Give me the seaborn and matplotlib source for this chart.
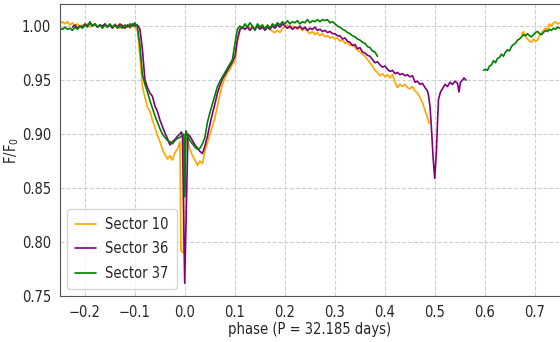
import numpy as np
import pandas as pd
import matplotlib
matplotlib.use("Agg")
import matplotlib.pyplot as plt
import seaborn as sns
from matplotlib.ticker import FormatStrFormatter

# (phase, F/F0)
s10_a = [
    (-0.250, 1.002), (-0.245, 1.004), (-0.240, 1.002), (-0.235, 1.004), (-0.230, 1.001),
    (-0.225, 1.003), (-0.220, 1.000), (-0.215, 1.002), (-0.210, 0.999), (-0.205, 1.001),
    (-0.200, 1.000), (-0.195, 1.002), (-0.190, 0.999), (-0.185, 1.001), (-0.180, 1.002),
    (-0.175, 0.999), (-0.170, 1.001), (-0.165, 0.999), (-0.160, 1.002), (-0.155, 1.000),
    (-0.150, 1.001), (-0.145, 0.999), (-0.140, 1.002), (-0.135, 1.000), (-0.130, 0.998),
    (-0.125, 1.001), (-0.120, 0.999), (-0.115, 1.001), (-0.110, 0.998), (-0.105, 1.000),
    (-0.100, 0.999), (-0.095, 0.996), (-0.090, 0.972), (-0.085, 0.944), (-0.080, 0.934),
    (-0.075, 0.925), (-0.070, 0.921), (-0.065, 0.913), (-0.060, 0.906), (-0.055, 0.899),
    (-0.050, 0.893), (-0.045, 0.886), (-0.040, 0.881), (-0.035, 0.877), (-0.030, 0.880),
    (-0.025, 0.876), (-0.020, 0.883), (-0.015, 0.886), (-0.010, 0.893), (-0.008, 0.792),
    (-0.003, 0.790), (-0.002, 0.896), (0.002, 0.897), (0.006, 0.893), (0.010, 0.886),
    (0.015, 0.880), (0.020, 0.876), (0.025, 0.871), (0.030, 0.875), (0.035, 0.873),
    (0.040, 0.884), (0.045, 0.892), (0.050, 0.900), (0.055, 0.907), (0.060, 0.915),
    (0.065, 0.926), (0.070, 0.937), (0.075, 0.946), (0.080, 0.952), (0.085, 0.957),
    (0.090, 0.960), (0.095, 0.965), (0.100, 0.967), (0.105, 0.986), (0.110, 0.996),
    (0.115, 0.999), (0.120, 0.997), (0.125, 1.000), (0.130, 0.998), (0.135, 1.000),
    (0.140, 0.997), (0.145, 1.000), (0.150, 0.998), (0.155, 1.001), (0.160, 0.998),
    (0.165, 1.000), (0.170, 0.997), (0.175, 0.995), (0.180, 0.994), (0.185, 0.996),
    (0.190, 0.994), (0.195, 0.998), (0.200, 0.999), (0.205, 1.001), (0.210, 0.998),
    (0.215, 1.000), (0.220, 0.999), (0.225, 0.997), (0.230, 0.999), (0.235, 0.996),
    (0.240, 0.998), (0.245, 0.995), (0.250, 0.993), (0.255, 0.995), (0.260, 0.992),
    (0.265, 0.994), (0.270, 0.991), (0.275, 0.993), (0.280, 0.990), (0.285, 0.991),
    (0.290, 0.989), (0.295, 0.990), (0.300, 0.988), (0.305, 0.989), (0.310, 0.986),
    (0.315, 0.987), (0.320, 0.984), (0.325, 0.985), (0.330, 0.982), (0.335, 0.983),
    (0.340, 0.980), (0.345, 0.978), (0.350, 0.976), (0.355, 0.974), (0.360, 0.972),
    (0.365, 0.969), (0.370, 0.966), (0.375, 0.963), (0.380, 0.959), (0.385, 0.957),
    (0.390, 0.954), (0.395, 0.956), (0.400, 0.953), (0.405, 0.955), (0.410, 0.952),
    (0.415, 0.955), (0.420, 0.948), (0.425, 0.943), (0.430, 0.946), (0.435, 0.944),
    (0.440, 0.946), (0.445, 0.943), (0.450, 0.942), (0.455, 0.944), (0.460, 0.940),
    (0.465, 0.938), (0.470, 0.934), (0.475, 0.929), (0.480, 0.922), (0.485, 0.915),
    (0.488, 0.910),
]
s10_b = [
    (0.673, 0.992), (0.677, 0.995), (0.681, 0.990), (0.685, 0.988), (0.689, 0.986),
    (0.693, 0.985), (0.697, 0.988), (0.701, 0.986), (0.705, 0.987), (0.709, 0.991),
    (0.713, 0.994), (0.717, 0.996), (0.721, 0.998), (0.725, 0.997), (0.729, 1.002),
    (0.733, 1.000), (0.737, 1.003), (0.741, 1.004), (0.745, 1.002), (0.750, 1.003),
]
s36 = [
    (-0.225, 0.999), (-0.220, 1.001), (-0.215, 0.998), (-0.210, 1.000), (-0.205, 0.999),
    (-0.200, 1.002), (-0.195, 1.000), (-0.190, 1.003), (-0.185, 1.000), (-0.180, 1.002),
    (-0.175, 0.999), (-0.170, 1.001), (-0.165, 1.000), (-0.160, 1.002), (-0.155, 0.999),
    (-0.150, 1.001), (-0.145, 0.998), (-0.140, 1.001), (-0.135, 0.999), (-0.130, 1.002),
    (-0.125, 1.000), (-0.120, 0.998), (-0.115, 1.001), (-0.110, 0.999), (-0.105, 1.002),
    (-0.100, 1.000), (-0.095, 1.001), (-0.090, 0.997), (-0.085, 0.978), (-0.080, 0.950),
    (-0.075, 0.943), (-0.070, 0.938), (-0.065, 0.935), (-0.060, 0.926), (-0.055, 0.921),
    (-0.050, 0.913), (-0.045, 0.907), (-0.040, 0.901), (-0.035, 0.896), (-0.030, 0.890),
    (-0.025, 0.893), (-0.020, 0.895), (-0.015, 0.898), (-0.010, 0.900), (-0.007, 0.902),
    (-0.005, 0.899), (-0.0005, 0.762), (0.006, 0.900), (0.010, 0.898), (0.015, 0.894),
    (0.020, 0.890), (0.025, 0.887), (0.030, 0.884), (0.035, 0.882), (0.040, 0.889),
    (0.045, 0.898), (0.050, 0.909), (0.055, 0.919), (0.060, 0.928), (0.065, 0.938),
    (0.070, 0.945), (0.075, 0.951), (0.080, 0.955), (0.085, 0.959), (0.090, 0.963),
    (0.095, 0.967), (0.100, 0.972), (0.105, 0.988), (0.110, 0.997), (0.115, 0.999),
    (0.120, 0.997), (0.125, 0.999), (0.130, 0.996), (0.135, 0.999), (0.140, 0.997),
    (0.145, 1.000), (0.150, 0.997), (0.155, 0.999), (0.160, 0.996), (0.165, 0.999),
    (0.170, 0.997), (0.175, 1.000), (0.180, 0.998), (0.185, 1.001), (0.190, 0.999),
    (0.195, 1.002), (0.200, 1.000), (0.205, 0.998), (0.210, 1.000), (0.215, 0.997),
    (0.220, 0.999), (0.225, 0.998), (0.230, 1.000), (0.235, 0.997), (0.240, 0.999),
    (0.245, 0.996), (0.250, 0.998), (0.255, 0.997), (0.260, 0.999), (0.265, 0.996),
    (0.270, 0.997), (0.275, 0.995), (0.280, 0.996), (0.285, 0.994), (0.290, 0.995),
    (0.295, 0.993), (0.300, 0.993), (0.305, 0.991), (0.310, 0.991), (0.315, 0.988),
    (0.320, 0.989), (0.325, 0.986), (0.330, 0.985), (0.335, 0.982), (0.340, 0.983),
    (0.345, 0.979), (0.350, 0.980), (0.355, 0.976), (0.360, 0.975), (0.365, 0.973),
    (0.370, 0.972), (0.375, 0.969), (0.380, 0.966), (0.385, 0.967), (0.390, 0.964),
    (0.395, 0.962), (0.400, 0.963), (0.405, 0.960), (0.410, 0.958), (0.415, 0.959),
    (0.420, 0.956), (0.425, 0.957), (0.430, 0.955), (0.435, 0.956), (0.440, 0.954),
    (0.445, 0.955), (0.450, 0.953), (0.455, 0.954), (0.460, 0.948), (0.465, 0.949),
    (0.470, 0.946), (0.475, 0.947), (0.480, 0.943), (0.485, 0.940), (0.487, 0.936),
    (0.490, 0.926), (0.493, 0.905), (0.496, 0.880), (0.4995, 0.859), (0.503, 0.885),
    (0.505, 0.910), (0.507, 0.932), (0.511, 0.939), (0.515, 0.942), (0.520, 0.946),
    (0.525, 0.944), (0.530, 0.948), (0.535, 0.946), (0.540, 0.949), (0.545, 0.947),
    (0.548, 0.939), (0.551, 0.948), (0.555, 0.950), (0.558, 0.952), (0.562, 0.950),
]
s37_a = [
    (-0.250, 0.998), (-0.245, 0.997), (-0.240, 0.999), (-0.235, 0.997), (-0.230, 0.998),
    (-0.225, 0.996), (-0.220, 0.999), (-0.215, 0.997), (-0.210, 1.000), (-0.205, 0.998),
    (-0.200, 1.001), (-0.195, 0.999), (-0.190, 1.004), (-0.185, 1.000), (-0.180, 1.002),
    (-0.175, 0.999), (-0.170, 1.001), (-0.165, 0.998), (-0.160, 1.001), (-0.155, 0.999),
    (-0.150, 1.002), (-0.145, 0.999), (-0.140, 1.001), (-0.135, 0.998), (-0.130, 1.000),
    (-0.125, 0.998), (-0.120, 1.001), (-0.115, 0.999), (-0.110, 1.002), (-0.105, 1.000),
    (-0.100, 1.003), (-0.095, 0.999), (-0.090, 0.982), (-0.085, 0.955), (-0.080, 0.946),
    (-0.075, 0.939), (-0.070, 0.931), (-0.065, 0.924), (-0.060, 0.917), (-0.055, 0.911),
    (-0.050, 0.905), (-0.045, 0.900), (-0.040, 0.897), (-0.035, 0.894), (-0.030, 0.893),
    (-0.025, 0.891), (-0.020, 0.894), (-0.015, 0.896), (-0.010, 0.897), (-0.005, 0.899),
    (-0.002, 0.900), (0.000, 0.842), (0.002, 0.903), (0.005, 0.899), (0.010, 0.894),
    (0.015, 0.891), (0.020, 0.888), (0.025, 0.886), (0.030, 0.887), (0.035, 0.891),
    (0.040, 0.897), (0.045, 0.911), (0.050, 0.920), (0.055, 0.928), (0.060, 0.936),
    (0.065, 0.944), (0.070, 0.949), (0.075, 0.953), (0.080, 0.957), (0.085, 0.961),
    (0.090, 0.965), (0.095, 0.969), (0.100, 0.984), (0.105, 0.997), (0.110, 1.000),
    (0.115, 0.998), (0.120, 1.002), (0.125, 0.999), (0.130, 1.003), (0.135, 1.000),
    (0.140, 0.996), (0.145, 1.002), (0.150, 0.999), (0.155, 1.001), (0.160, 0.997),
    (0.165, 1.001), (0.170, 0.998), (0.175, 1.002), (0.180, 1.000), (0.185, 1.003),
    (0.190, 1.001), (0.195, 1.004), (0.200, 1.002), (0.205, 1.005), (0.210, 1.002),
    (0.215, 1.004), (0.220, 1.003), (0.225, 1.005), (0.230, 1.002), (0.235, 1.004),
    (0.240, 1.003), (0.245, 1.006), (0.250, 1.003), (0.255, 1.005), (0.260, 1.004),
    (0.265, 1.006), (0.270, 1.004), (0.275, 1.006), (0.280, 1.005), (0.285, 1.006),
    (0.290, 1.003), (0.295, 1.004), (0.300, 1.002), (0.305, 1.000), (0.310, 0.999),
    (0.315, 0.997), (0.320, 0.996), (0.325, 0.994), (0.330, 0.993), (0.335, 0.991),
    (0.340, 0.990), (0.345, 0.988), (0.350, 0.987), (0.355, 0.985), (0.360, 0.984),
    (0.365, 0.981), (0.370, 0.980), (0.375, 0.977), (0.380, 0.976), (0.385, 0.972),
]
s37_b = [
    (0.597, 0.959), (0.601, 0.960), (0.605, 0.959), (0.609, 0.963), (0.613, 0.964),
    (0.617, 0.968), (0.621, 0.966), (0.625, 0.970), (0.629, 0.971), (0.633, 0.974),
    (0.637, 0.972), (0.641, 0.976), (0.645, 0.978), (0.649, 0.977), (0.653, 0.981),
    (0.657, 0.983), (0.661, 0.984), (0.665, 0.987), (0.669, 0.988), (0.673, 0.990),
    (0.677, 0.992), (0.681, 0.991), (0.685, 0.993), (0.689, 0.991), (0.693, 0.990),
    (0.697, 0.992), (0.701, 0.994), (0.705, 0.995), (0.709, 0.993), (0.713, 0.992),
    (0.717, 0.994), (0.721, 0.996), (0.725, 0.995), (0.729, 0.997), (0.733, 0.996),
    (0.737, 0.998), (0.741, 0.997), (0.745, 0.999), (0.750, 0.998),
]

sectors = ["Sector 10", "Sector 36", "Sector 37"]
colors = {"Sector 10": "orange", "Sector 36": "purple", "Sector 37": "green"}
x_ticks = [-0.2, -0.1, 0.0, 0.1, 0.2, 0.3, 0.4, 0.5, 0.6, 0.7]
y_ticks = [0.75, 0.80, 0.85, 0.90, 0.95, 1.00]

segments = [
    ("Sector 10", "10a", s10_a), ("Sector 10", "10b", s10_b),
    ("Sector 36", "36", s36),
    ("Sector 37", "37a", s37_a), ("Sector 37", "37b", s37_b),
]
frames = []
for sector, seg, pts in segments:
    arr = np.array(pts)
    frames.append(pd.DataFrame({"phase": arr[:, 0], "flux": arr[:, 1],
                                "sector": sector, "segment": seg}))
df = pd.concat(frames, ignore_index=True)

sns.set_style("white")
plt.rcParams["font.family"] = ["DejaVu Sans"]
plt.rcParams["font.stretch"] = "condensed"

fig = plt.figure(figsize=(5.6, 3.42), dpi=100)
ax = fig.add_axes([0.107, 0.134, 0.893, 0.853])
sns.lineplot(data=df, x="phase", y="flux", hue="sector", hue_order=sectors,
             units="segment", estimator=None, sort=False, palette=colors,
             linewidth=1.2, ax=ax)

ax.set_xlim(-0.25, 0.75)
ax.set_ylim(0.75, 1.02)
ax.set_xticks(x_ticks)
ax.set_yticks(y_ticks)
ax.yaxis.set_major_formatter(FormatStrFormatter("%.2f"))
ax.tick_params(labelsize=10.5, pad=3)
ax.grid(True, linestyle="--", color="#b0b0b0", alpha=0.6, linewidth=0.8)
for side in ["left", "bottom", "top"]:
    ax.spines[side].set_color("#555555")
ax.spines["right"].set_visible(False)
ax.set_xlabel("phase (P = 32.185 days)", fontsize=10.5, labelpad=1)
ax.set_ylabel("F/F$_0$", fontsize=10.5)
ax.yaxis.set_label_coords(-0.078, 0.5)
ax.legend(loc="lower left", fontsize=10.5, labelspacing=0.65,
          handlelength=1.4, handletextpad=0.65, borderpad=0.55)

fig.savefig("out.png", dpi=100)
